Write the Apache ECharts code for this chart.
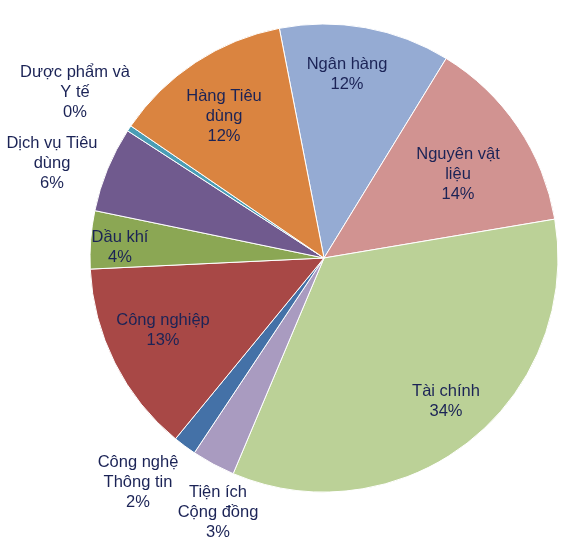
<!DOCTYPE html>
<html><head><meta charset="utf-8">
<script src="https://cdn.jsdelivr.net/npm/echarts@6/dist/echarts.min.js"></script>
<style>html,body{margin:0;padding:0;background:#fff}#c{width:587px;height:553px}</style>
</head><body><div id="c"></div>
<script>
const categories = ["Ngân hàng","Nguyên vật\nliệu","Tài chính","Tiện ích\nCộng đồng","Công nghệ\nThông tin","Công nghiệp","Dầu khí","Dịch vụ Tiêu\ndùng","Dược phẩm và\nY tế","Hàng Tiêu\ndùng"];
const values = [11.8, 13.6, 34.0, 3.0, 1.6, 13.3, 4.0, 5.9, 0.4, 12.4];
const colors = ["#95ABD3","#D19391","#BBD197","#A99BC0","#4471A7","#A84846","#8BA754","#705A8E","#4A9DB5","#DA8440"];
const labelPos = [[347,74],[458,174],[446,401],[218,512],[138,482],[163,330],[120,247],[52,163],[75,92],[224,116]];

const chart = echarts.init(document.getElementById('c'));
chart.setOption({
  animation:false,
  series:[{
    type:'pie',
    center:[324,258],
    radius:234,
    startAngle:101,
    clockwise:true,
    percentPrecision:0,
    avoidLabelOverlap:false,
    itemStyle:{borderColor:'#fff',borderWidth:1},
    label:{show:true,position:'inside',formatter:'{b}\n{d}%',color:'#1B2356',
      fontFamily:'Liberation Sans, Arial, sans-serif',fontSize:16.5,lineHeight:20,align:'center'},
    labelLine:{show:false},
    emphasis:{disabled:true},
    labelLayout:function(p){const q=labelPos[p.dataIndex];return {x:q[0],y:q[1],align:'center',verticalAlign:'middle'};},
    data:categories.map((c,i)=>({name:c,value:values[i],itemStyle:{color:colors[i]}}))
  }]
});
</script></body></html>
